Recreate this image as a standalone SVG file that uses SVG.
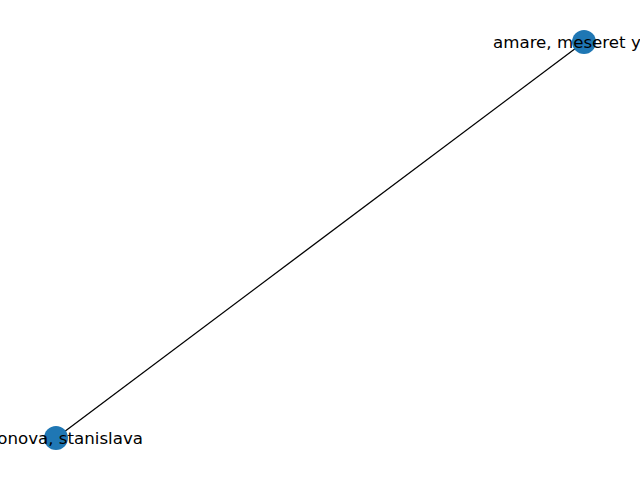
<svg xmlns="http://www.w3.org/2000/svg" width="640" height="480" viewBox="0 0 640 480">
<style>
.node{fill:#1f77b4}
.lbl{font-family:"DejaVu Sans",sans-serif;font-size:16.67px;fill:#000;dominant-baseline:central}
.edge{stroke:#000;stroke-width:1.3;fill:none}
</style>
<rect width="640" height="480" fill="#fff"/>
<g id="edges">
<line class="edge" x1="584" y1="42" x2="56" y2="438"/>
</g>
<g id="node-amare">
<circle class="node" cx="584" cy="42" r="12"/>
<text class="lbl" x="493" y="42">amare, meseret y</text>
</g>
<g id="node-stanislava">
<circle class="node" cx="56" cy="438" r="12"/>
<text class="lbl" x="143" y="438" text-anchor="end">onova, stanislava</text>
</g>
</svg>
